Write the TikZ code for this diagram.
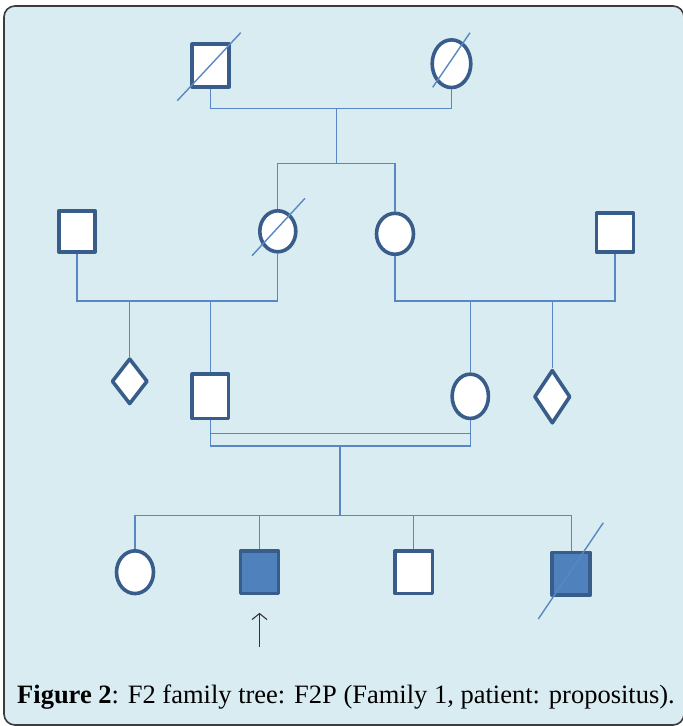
\documentclass[tikz,border=0pt]{standalone}
\usepackage{fontspec}
\setmainfont{Liberation Serif}
\usetikzlibrary{shapes.geometric,arrows.meta}

\definecolor{panel}{RGB}{217,236,242}
\definecolor{frameline}{RGB}{60,60,60}
\definecolor{symline}{RGB}{56,93,138}
\definecolor{affected}{RGB}{79,129,189}
\definecolor{linkline}{RGB}{88,136,196}

\tikzset{
  person/.style={draw=symline, line width=3.6pt, fill=white, inner sep=0pt, line join=round},
  male/.style={person, rectangle, minimum width=#1},
  male/.default=37pt,
  female/.style={person, ellipse},
  unknown/.style={person, diamond},
  aff/.style={fill=affected},
  link/.style={draw=linkline, line width=1.2pt},
  deceased/.style={draw=linkline, line width=1.4pt},
  pointer/.style={draw=black!80, line width=1.1pt, -{Straight Barb[length=6pt,width=15pt]}},
}

\begin{document}
\begin{tikzpicture}[x=1pt, y=-1pt]
  \useasboundingbox (0,0) rectangle (683,726);
  \clip (0,0) rectangle (683,726);
  \draw[frameline, fill=panel, line width=1.6pt, rounded corners=11pt]
    (4,6) rectangle (684,725);

  % generation I
  \node[male, minimum height=42.6pt] (gf) at (210.7,65.5) {};
  \node[female, minimum width=38.6pt, minimum height=47.7pt] (gm) at (451.5,63.7) {};

  % generation II
  \node[male, minimum width=36.4pt, minimum height=41pt] (lh) at (77,231.3) {};
  \node[female, minimum width=36pt, minimum height=41pt] (g2f) at (277.8,231.3) {};
  \node[female, minimum width=37pt, minimum height=41pt] (g2m) at (395,233.8) {};
  \node[male, minimum height=38.6pt] (rh) at (615,232.5) {};

  % generation III
  \node[unknown, minimum width=36pt, minimum height=46pt] (dia1) at (129.7,381.3) {};
  \node[male, minimum width=36.3pt, minimum height=44.3pt] (sq3) at (210.3,396.3) {};
  \node[female, minimum width=36.3pt, minimum height=44.3pt] (e3) at (470.3,396.3) {};
  \node[unknown, minimum width=36.3pt, minimum height=53.7pt] (dia2) at (552.3,396.7) {};

  % generation IV
  \node[female, minimum width=37pt, minimum height=42.7pt] (c1) at (135,572.2) {};
  \node[male, aff, minimum width=38pt, minimum height=42.7pt] (c2) at (259.5,572.2) {};
  \node[male, minimum width=37.7pt, minimum height=42.7pt] (c3) at (413.7,572.2) {};
  \node[male, aff, minimum width=38pt, minimum height=42.7pt] (c4) at (571.2,573.8) {};

  % junction points of the lines of descent
  \coordinate (j1) at (336.7,108.3);
  \coordinate (s1) at (336.7,163.3);
  \coordinate (m2l) at (129.7,301);
  \coordinate (m2r) at (470.3,301);
  \coordinate (dbu) at (340,433.3);
  \coordinate (dbl) at (340,446);
  \coordinate (sib) at (340,515.7);
  \coordinate (tail) at (259.5,646.7);

  % lines of descent
  \draw[link] (gf.south) |- (j1) -| (gm.south);
  \draw[link] (j1) -- (s1);
  \draw[link] (g2f.north) |- (s1) -| (g2m.north);

  \draw[link] (lh.south) |- (m2l) -| (g2f.south);
  \draw[link] (m2l) -- (dia1.north);
  \draw[link] (sq3.north) -- (sq3.north |- m2l);

  \draw[link] (g2m.south) |- (m2r) -| (rh.south);
  \draw[link] (m2r) -- (e3.north);
  \draw[link] (dia2.north) -- (dia2.north |- m2r);

  \draw[link] (sq3.south) |- (dbl) -| (e3.south);
  \draw[link] (sq3.south |- dbu) -- (e3.south |- dbu);
  \draw[link] (dbl) -- (sib);
  \draw[link] (c1.north) |- (sib) -| (c4.north);
  \draw[link] (c2.north) -- (c2.north |- sib);
  \draw[link] (c3.north) -- (c3.north |- sib);

  % deceased marks
  \draw[deceased] ([shift={(-33.4,35.2)}]gf.center) -- ([shift={(30,-32.8)}]gf.center);
  \draw[deceased] ([shift={(-18.8,23.6)}]gm.center) -- ([shift={(18.5,-31)}]gm.center);
  \draw[deceased] ([shift={(-25.8,24.4)}]g2f.center) -- ([shift={(27.2,-33)}]g2f.center);
  \draw[deceased] ([shift={(-32.9,45.2)}]c4.center) -- ([shift={(32.1,-51.1)}]c4.center);

  % proband arrow
  \draw[pointer, shorten >=17.5pt] (tail) -- (c2.south);

  % caption
  \node[anchor=base west, inner sep=0pt, font=\fontsize{26.5}{30}\selectfont] (cap) at (17,703)
    {\textbf{Figure 2}: F2 family tree: F2P (Family 1, patient: propositus).};
\end{tikzpicture}
\end{document}
